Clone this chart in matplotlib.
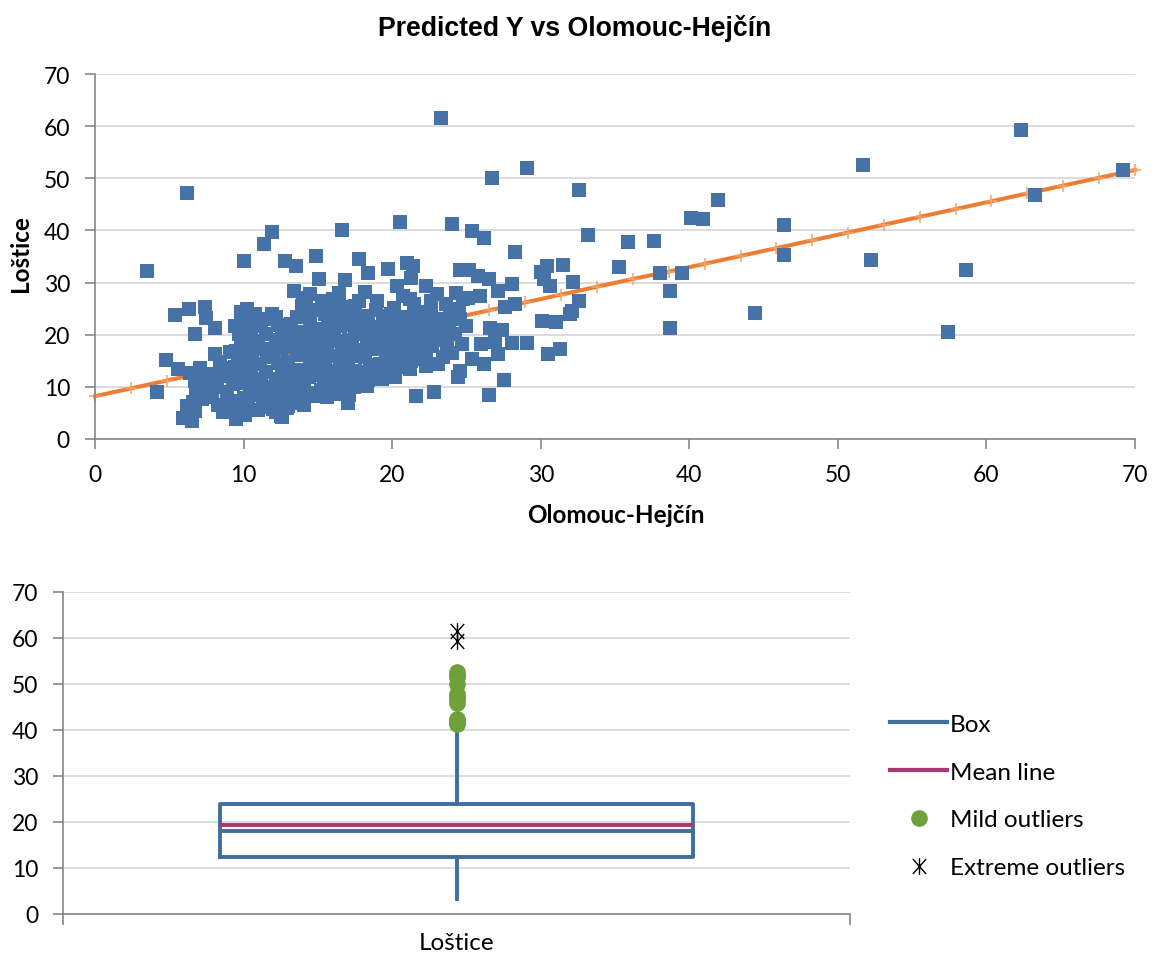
import matplotlib
matplotlib.use('Agg')
import matplotlib.pyplot as plt
from matplotlib.lines import Line2D
from matplotlib.path import Path

plt.rcParams['font.family'] = ['Lato', 'DejaVu Sans']

W, H = 1159, 962

# --- scatter: Olomouc-Hejčín (x) vs Loštice (y) ---
olomouc = [
    # outer / readable points
    6.2, 11.9, 11.4, 10.0, 12.8, 3.5, 5.4, 6.3, 7.4, 7.5, 8.1, 6.7, 4.8, 5.6, 7.1, 4.2,
    6.4, 6.8, 6.2, 5.9, 6.5, 6.7, 8.1, 8.1, 8.8, 9.1, 9.8, 10.2, 10.8, 11.9, 12.2, 9.4,
    9.5, 8.6, 12.2, 12.6, 16.6, 20.5, 14.9, 13.5, 17.8, 18.4, 19.7, 21.0, 21.4, 21.3,
    15.1, 16.8, 13.4, 14.5, 15.3, 13.9, 16.4, 18.2, 19.0, 20.3, 20.7, 22.3, 22.6, 21.5,
    16.8, 15.8, 17.2, 18.2, 19.4, 20.3, 20.9, 21.7, 22.8, 21.6, 22.8, 17.0, 14.1, 12.5,
    13.3, 15.6, 18.3, 19.3, 20.2, 21.2, 22.3, 23.1, 22.1, 22.7,
    23.3, 29.1, 26.7, 32.6, 24.0, 25.4, 26.2, 33.2, 28.3, 24.6, 25.2, 25.8, 26.5, 25.9,
    27.1, 28.1, 30.0, 30.4, 30.2, 30.6, 31.5, 32.2, 32.6, 32.1, 32.0, 28.3, 27.6, 24.8,
    25.1, 26.6, 27.4, 30.1, 31.0, 28.1, 29.1, 30.5, 31.3, 26.0, 26.9, 27.1, 24.7, 25.4,
    26.2, 24.6, 24.4, 27.5, 26.5, 23.4, 23.7, 23.4, 23.9, 24.6, 25.0, 23.2,
    41.9, 40.1, 40.9, 46.4, 35.9, 37.6, 35.3, 38.0, 39.5, 46.4, 38.7, 44.4, 38.7,
    62.3, 51.7, 69.2, 63.3, 52.2, 58.6, 57.4,
    # dense cluster
    7.3, 7.2, 6.8, 6.6, 6.7, 7.6, 7.9, 8.3, 8.2, 8.4, 7.8,
    9.0, 9.2, 8.9, 9.3, 9.0, 9.4, 9.6, 9.8, 9.7, 9.9, 9.6, 9.8, 9.5,
    10.1, 10.3, 10.0, 10.4, 10.2, 10.5, 10.1, 10.6, 10.3, 10.0, 10.5, 10.2, 10.6, 10.9, 10.8,
    11.0, 11.3, 11.1, 11.4, 11.2, 11.5, 11.1, 11.6, 11.3, 11.0, 11.5, 11.2, 11.6, 11.8, 11.7, 11.9,
    12.0, 12.3, 12.1, 12.4, 12.2, 12.6, 12.3, 12.0, 12.5, 12.2, 12.6, 12.3, 12.8, 12.7, 12.9, 12.9,
    13.0, 13.2, 13.5, 13.1, 13.4, 13.0, 13.6, 13.3, 13.1, 13.5, 13.2, 13.6, 13.8, 13.9, 13.7,
    14.0, 14.3, 14.1, 14.4, 14.2, 14.5, 14.0, 14.6, 14.3, 14.1, 14.5, 14.2, 14.7, 14.8, 14.9, 14.7,
    15.0, 15.2, 15.4, 15.1, 15.5, 15.2, 15.6, 15.3, 15.0, 15.4, 15.7, 15.5, 15.8, 15.9, 15.2,
    16.0, 16.3, 16.1, 16.4, 16.2, 16.5, 16.0, 16.6, 16.3, 16.1, 16.5, 16.2, 16.7, 16.8, 16.9, 16.6,
    17.1, 17.4, 17.2, 17.5, 17.0, 17.6, 17.3, 17.1, 17.5, 17.2, 17.7, 17.8, 17.9, 17.6,
    18.0, 18.4, 18.1, 18.5, 18.2, 18.6, 18.3, 18.0, 18.6, 18.8, 18.9, 18.4,
    19.1, 19.5, 19.2, 19.6, 19.0, 19.4, 19.7, 19.2, 19.9, 19.8, 19.5,
    20.0, 20.4, 20.1, 20.6, 20.2, 20.5, 20.0, 20.8, 20.7, 20.9,
    21.0, 21.4, 21.1, 21.5, 21.2, 21.6, 21.0, 21.8, 21.9, 21.3,
    22.0, 22.4, 22.1, 22.5, 22.0, 22.6, 22.9, 22.3,
    23.5, 23.8, 24.2, 24.0, 24.5, 23.6, 24.3, 23.0,
    14.2, 17.5, 18.9, 20.1, 19.9, 21.2, 16.0, 17.8, 14.0,
]
lostice = [
    47.2, 39.7, 37.4, 34.1, 34.1, 32.2, 23.8, 24.9, 25.3, 23.2, 21.3, 20.1, 15.2, 13.4, 13.6, 9.0,
    12.7, 8.3, 6.4, 4.0, 3.5, 5.4, 16.3, 12.1, 13.6, 16.7, 24.4, 24.9, 24.0, 24.0, 23.4, 21.7,
    3.8, 5.2, 5.2, 4.2, 40.1, 41.6, 35.1, 33.2, 34.5, 31.8, 32.6, 33.8, 33.2, 30.9,
    30.7, 30.5, 28.4, 27.8, 26.5, 25.5, 28.0, 28.2, 26.5, 29.4, 27.4, 29.4, 26.5, 25.9,
    25.3, 24.4, 23.6, 22.4, 22.4, 21.5, 22.4, 24.4, 22.6, 8.3, 9.0, 6.9, 6.5, 4.4,
    7.7, 8.0, 10.2, 11.5, 11.9, 13.4, 14.0, 14.4, 16.7, 17.8,
    61.6, 52.0, 50.1, 47.8, 41.3, 39.8, 38.6, 39.1, 35.9, 32.5, 32.5, 31.3, 30.6, 27.5,
    28.3, 29.7, 32.0, 33.2, 30.7, 29.4, 33.4, 30.2, 26.5, 24.6, 24.0, 25.9, 25.3, 26.9,
    27.0, 21.2, 21.0, 22.6, 22.5, 18.4, 18.4, 16.3, 17.3, 18.2, 18.6, 16.3, 18.2, 15.3,
    14.4, 13.0, 11.9, 11.4, 8.5, 15.7, 17.6, 23.0, 24.4, 23.0, 21.7, 20.5,
    45.9, 42.4, 42.1, 41.1, 37.8, 38.0, 32.9, 31.9, 31.9, 35.2, 28.4, 24.2, 21.3,
    59.3, 52.6, 51.5, 46.8, 34.4, 32.5, 20.6,
    # dense cluster
    9.6, 7.7, 9.0, 7.1, 11.1, 11.0, 8.0, 6.6, 9.9, 14.7, 12.4,
    5.6, 7.3, 9.0, 10.6, 12.0, 13.9, 15.2, 18.6, 20.2, 22.5, 6.4, 11.3, 16.8,
    4.6, 6.0, 7.8, 9.2, 10.8, 12.3, 13.7, 15.0, 16.4, 18.0, 19.4, 21.0, 22.6, 8.4, 17.4,
    5.5, 7.0, 8.6, 10.0, 11.5, 12.9, 14.4, 15.8, 17.2, 18.8, 20.2, 21.7, 23.0, 9.3, 16.6, 6.2,
    5.8, 7.2, 8.7, 10.1, 11.6, 13.1, 14.5, 16.0, 17.4, 18.9, 20.4, 21.9, 12.2, 9.4, 19.1, 6.0,
    6.4, 8.9, 10.3, 11.8, 13.2, 14.7, 16.1, 17.6, 19.0, 20.5, 22.0, 23.4, 12.4, 18.3, 6.9,
    7.5, 8.9, 10.4, 11.8, 13.3, 14.7, 16.2, 17.6, 19.1, 20.6, 22.0, 23.5, 24.8, 12.6, 15.5, 8.2,
    8.4, 9.4, 10.9, 12.3, 13.8, 15.3, 16.7, 18.2, 19.6, 21.1, 22.5, 24.0, 11.6, 19.0, 9.0,
    8.6, 8.6, 10.1, 11.5, 13.0, 14.4, 15.9, 17.3, 18.8, 20.3, 21.7, 23.1, 24.2, 12.2, 16.5, 9.5,
    8.4, 10.0, 11.6, 13.0, 14.5, 15.9, 17.4, 18.9, 20.4, 21.9, 22.8, 12.3, 17.0, 10.4,
    10.6, 11.3, 12.8, 14.2, 15.7, 17.2, 18.7, 20.1, 21.5, 13.6, 19.4, 23.5,
    12.2, 12.9, 14.3, 15.8, 17.3, 18.8, 20.2, 21.4, 16.6, 13.7, 23.6,
    13.3, 13.9, 15.3, 16.8, 18.2, 19.7, 20.9, 23.4, 17.5, 14.7,
    14.2, 15.8, 17.3, 18.7, 20.2, 21.6, 23.0, 17.0, 19.6, 14.9,
    15.4, 18.9, 20.3, 21.7, 23.9, 24.8, 19.8, 15.6,
    19.0, 21.6, 20.2, 16.5, 25.0, 25.8, 28.0, 27.8,
    26.0, 25.6, 24.8, 25.2, 24.0, 26.8, 26.9, 26.5, 27.0,
]

# predicted Y line
pred_x = [0.0, 2.41, 4.83, 7.24, 9.66, 12.07, 14.48, 16.9, 19.31, 21.72, 24.14, 26.55,
          28.97, 31.38, 33.79, 36.21, 38.62, 41.03, 43.45, 45.86, 48.28, 50.69, 53.1,
          55.52, 57.93, 60.34, 62.76, 65.17, 67.59, 70.0]
pred_y = [8.2, 9.7, 11.2, 12.7, 14.2, 15.7, 17.2, 18.7, 20.2, 21.7, 23.2, 24.7, 26.2,
          27.7, 29.2, 30.7, 32.1, 33.6, 35.1, 36.6, 38.1, 39.6, 41.1, 42.6, 44.1, 45.6,
          47.1, 48.6, 50.1, 51.6]

# --- box plot of Loštice ---
box_q1 = 12.45
box_median = 18.0
box_mean = 19.4
box_q3 = 23.9
whisker_low = 3.3
whisker_high = 40.1
mild_outliers = [41.3, 41.6, 42.1, 42.4, 45.9, 46.8, 47.2, 47.8, 50.1, 51.5, 52.0, 52.6]
extreme_outliers = [59.3, 61.6]
legend_labels = ['Box', 'Mean line', 'Mild outliers', 'Extreme outliers']

ticks = [0, 10, 20, 30, 40, 50, 60, 70]
grid_c = '#D9D9D9'
spine_c = '#868686'
blue = '#4672A8'
box_blue = '#3F6E9F'
orange = '#ED7D31'
magenta = '#A23B6E'
green = '#70A03B'

fig = plt.figure(figsize=(W / 100, H / 100), dpi=100)


def style(a):
    a.set_axisbelow(True)
    a.yaxis.grid(True, color=grid_c, lw=1.3)
    for s in ('top', 'right'):
        a.spines[s].set_visible(False)
    for s in ('left', 'bottom'):
        a.spines[s].set_color(spine_c)
        a.spines[s].set_linewidth(1.2)
    a.tick_params(direction='out', length=7, width=1.2, color=spine_c,
                  labelsize=16.5, pad=11)


# top: scatter
ax = fig.add_axes([95 / W, 1 - 440 / H, 1040 / W, 365 / H])
style(ax)
ax.plot(pred_x, pred_y, color=orange, lw=2.9, zorder=2, clip_on=False)
ax.plot(pred_x, pred_y, ls='none', marker='+', ms=9, mew=1.1, color='#F4A468',
        zorder=2.1, clip_on=False)
ax.scatter(olomouc, lostice, marker='s', s=112, color=blue, lw=0, zorder=3)
ax.set_xlim(0, 70)
ax.set_ylim(0, 70)
ax.set_xticks(ticks)
ax.set_yticks(ticks)
ax.set_xlabel('Olomouc-Hejčín', fontsize=17.5, weight='bold', va='center')
ax.xaxis.set_label_coords(0.501, -0.2055)
ax.set_ylabel('Loštice', fontsize=17.5, weight='bold', va='center')
ax.yaxis.set_label_coords(-0.072, 0.512)
fig.text(575 / W, 1 - 28 / H, 'Predicted Y vs Olomouc-Hejčín', ha='center', va='center',
         fontsize=19.2, weight='bold', family=['Liberation Sans', 'DejaVu Sans'])

# bottom: box plot
ax2 = fig.add_axes([63 / W, 1 - 915 / H, 787 / W, 322 / H])
style(ax2)
stats = [dict(med=box_median, q1=box_q1, q3=box_q3, whislo=whisker_low,
              whishi=whisker_high, mean=box_mean, fliers=[], label='')]
lp = dict(color=box_blue, lw=2.8)
ax2.bxp(stats, positions=[0.5], widths=0.6, showmeans=True, meanline=True,
        showcaps=False, showfliers=False, boxprops=lp, whiskerprops=lp,
        medianprops=lp, meanprops=dict(color=magenta, lw=2.8, ls='-'),
        manage_ticks=False)

asterisk = Path([(0, -1), (0, 1), (-0.8, -0.9), (0.8, 0.9), (-0.8, 0.9), (0.8, -0.9)],
                [Path.MOVETO, Path.LINETO, Path.MOVETO, Path.LINETO, Path.MOVETO, Path.LINETO])
ax2.plot([0.5] * len(mild_outliers), mild_outliers, ls='none', marker='o', ms=11,
         color=green, zorder=4)
ax2.plot([0.5] * len(extreme_outliers), extreme_outliers, ls='none', marker=asterisk,
         ms=12, mew=1, color='black', zorder=4)

ax2.set_xlim(0, 1)
ax2.set_ylim(0, 70)
ax2.set_yticks(ticks)
ax2.set_xticks([0, 1], labels=['', ''])
ax2.tick_params(axis='x', which='major', length=8)
ax2.set_xticks([0.5], labels=['Loštice'], minor=True)
ax2.tick_params(axis='x', which='minor', length=0, pad=13, labelsize=17.5)

handles = [
    Line2D([], [], color=box_blue, lw=3),
    Line2D([], [], color=magenta, lw=3),
    Line2D([], [], ls='none', marker='o', ms=11, color=green),
    Line2D([], [], ls='none', marker=asterisk, ms=12, mew=1, color='black'),
]
ax2.legend(handles, legend_labels, loc='center left',
           bbox_to_anchor=(890 / W, 1 - 797 / H), bbox_transform=fig.transFigure,
           frameon=False, fontsize=17.5, handlelength=2.35, handletextpad=0.1,
           labelspacing=1.1, borderpad=0, borderaxespad=0)

fig.savefig('out.png', dpi=100)
